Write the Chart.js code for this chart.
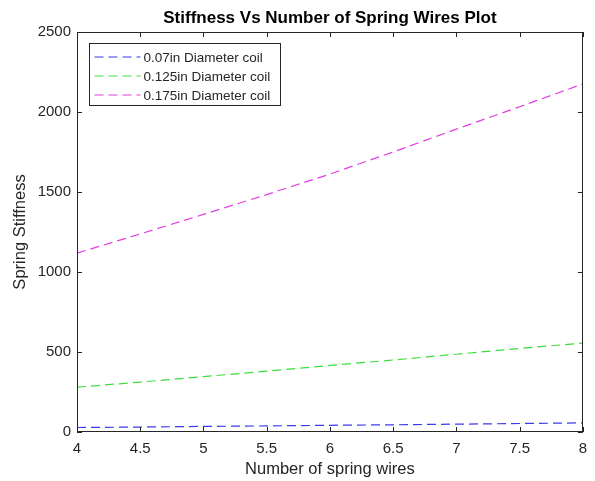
<!DOCTYPE html>
<html>
<head>
<meta charset="utf-8">
<script src="https://cdn.jsdelivr.net/npm/chart.js@4.4.1/dist/chart.umd.min.js"></script>
<style>
    html, body { margin: 0; padding: 0; background: #fff; }
    #wrap { width: 595px; height: 481px; }
</style>
</head>
<body>
<div id="wrap"><canvas id="stiffChart" width="595" height="481"></canvas></div>
<script>
// number of spring wires (x)
const wires = [4, 4.5, 5, 5.5, 6, 6.5, 7, 7.5, 8];
// stiffness, one array per coil diameter
const coil007 = [28, 31, 35, 38, 42, 45, 49, 53, 57];
const coil0125 = [280, 312, 346, 380, 416, 450, 486, 522, 556];
const coil0175 = [1118, 1238, 1360, 1484, 1612, 1750, 1893, 2033, 2175];
const seriesNames = ['0.07in Diameter coil', '0.125in Diameter coil', '0.175in Diameter coil'];
const xTicks = [4, 4.5, 5, 5.5, 6, 6.5, 7, 7.5, 8];
const yTicks = [0, 500, 1000, 1500, 2000, 2500];
const plotTitle = 'Stiffness Vs Number of Spring Wires Plot';

const FONT = "'Liberation Sans', Arial, Helvetica, sans-serif";
const AXIS_COLOR = '#262626';

document.addEventListener("DOMContentLoaded", function () {
    // ===============================
    // MATLAB style box + inward ticks + title over the axes
    // ===============================
    const boxTicks = {
        id: 'boxTicks',
        afterDatasetsDraw(chart) {
            const { ctx, chartArea: a, scales: { x, y } } = chart;
            const len = 5;
            ctx.save();
            ctx.strokeStyle = AXIS_COLOR;
            ctx.lineWidth = 1;
            ctx.beginPath();
            xTicks.forEach(v => {
                const px = Math.round(x.getPixelForValue(v)) + 0.5;
                ctx.moveTo(px, a.bottom); ctx.lineTo(px, a.bottom - len);
                ctx.moveTo(px, a.top); ctx.lineTo(px, a.top + len);
            });
            yTicks.forEach(v => {
                const py = Math.round(y.getPixelForValue(v)) + 0.5;
                ctx.moveTo(a.left, py); ctx.lineTo(a.left + len, py);
                ctx.moveTo(a.right, py); ctx.lineTo(a.right - len, py);
            });
            ctx.stroke();
            ctx.strokeRect(Math.round(a.left) + 0.5, Math.round(a.top) + 0.5,
                Math.round(a.right - a.left) - 1, Math.round(a.bottom - a.top) - 1);

            // title centred on the axes, not on the canvas
            ctx.fillStyle = '#000';
            ctx.font = 'bold 17px ' + FONT;
            ctx.textAlign = 'center';
            ctx.textBaseline = 'middle';
            ctx.fillText(plotTitle, (a.left + a.right) / 2, a.top - 14);
            ctx.restore();
        }
    };

    // ===============================
    // Legend box inside the axes
    // ===============================
    const boxLegend = {
        id: 'boxLegend',
        afterDraw(chart) {
            const { ctx, chartArea: a } = chart;
            const bx = a.left + 12.5, by = a.top + 11.5, bw = 191, bh = 62;
            ctx.save();
            ctx.fillStyle = '#fff';
            ctx.fillRect(bx, by, bw, bh);
            ctx.strokeStyle = AXIS_COLOR;
            ctx.lineWidth = 1;
            ctx.strokeRect(bx, by, bw, bh);
            ctx.font = '13.5px ' + FONT;
            ctx.textBaseline = 'middle';
            chart.data.datasets.forEach((ds, i) => {
                const ly = by + 13.5 + i * 19;
                ctx.strokeStyle = ds.borderColor;
                ctx.lineWidth = 1.2;
                ctx.setLineDash(ds.borderDash);
                ctx.beginPath();
                ctx.moveTo(bx + 5, ly);
                ctx.lineTo(bx + 51, ly);
                ctx.stroke();
                ctx.setLineDash([]);
                ctx.fillStyle = AXIS_COLOR;
                ctx.fillText(ds.label, bx + 54, ly + 1);
            });
            ctx.restore();
        }
    };

    const mkSet = (label, values, color) => ({
        label: label,
        data: wires.map((w, i) => ({ x: w, y: values[i] })),
        borderColor: color,
        borderWidth: 1.2,
        borderDash: [9, 5],
        pointRadius: 0,
        fill: false,
        tension: 0
    });

    const ctx = document.getElementById('stiffChart');
    new Chart(ctx.getContext('2d'), {
        type: 'line',
        data: {
            datasets: [
                mkSet(seriesNames[0], coil007, '#3a3aef'),
                mkSet(seriesNames[1], coil0125, '#3ddd3d'),
                mkSet(seriesNames[2], coil0175, '#e03ee0')
            ]
        },
        options: {
            responsive: false,
            animation: false,
            layout: { padding: { left: 0, right: 12, top: 32, bottom: 0 } },
            plugins: {
                legend: { display: false },
                tooltip: { enabled: false },
                title: { display: false }
            },
            scales: {
                x: {
                    type: 'linear',
                    min: 4, max: 8,
                    afterBuildTicks: s => { s.ticks = xTicks.map(v => ({ value: v })); },
                    afterFit: s => { s.height = 49; },
                    grid: { display: false, drawTicks: false },
                    border: { display: false },
                    ticks: {
                        color: AXIS_COLOR, padding: 8, maxRotation: 0, autoSkip: false,
                        font: { family: FONT, size: 15 },
                        callback: v => String(v)
                    },
                    title: {
                        display: true, text: 'Number of spring wires', color: AXIS_COLOR,
                        font: { family: FONT, size: 16.5, lineHeight: 1.2 },
                        padding: { top: 0, bottom: 2 }
                    }
                },
                y: {
                    min: 0, max: 2500,
                    afterBuildTicks: s => { s.ticks = yTicks.map(v => ({ value: v })); },
                    afterFit: s => { s.width = 77; },
                    grid: { display: false, drawTicks: false },
                    border: { display: false },
                    ticks: {
                        color: AXIS_COLOR, padding: 6, autoSkip: false,
                        font: { family: FONT, size: 15 },
                        callback: v => String(v)
                    },
                    title: {
                        display: true, text: 'Spring Stiffness', color: AXIS_COLOR,
                        font: { family: FONT, size: 16.5, lineHeight: 1.2 },
                        padding: { top: 11, bottom: 0 }
                    }
                }
            }
        },
        plugins: [boxTicks, boxLegend]
    });
});
</script>
</body>
</html>
